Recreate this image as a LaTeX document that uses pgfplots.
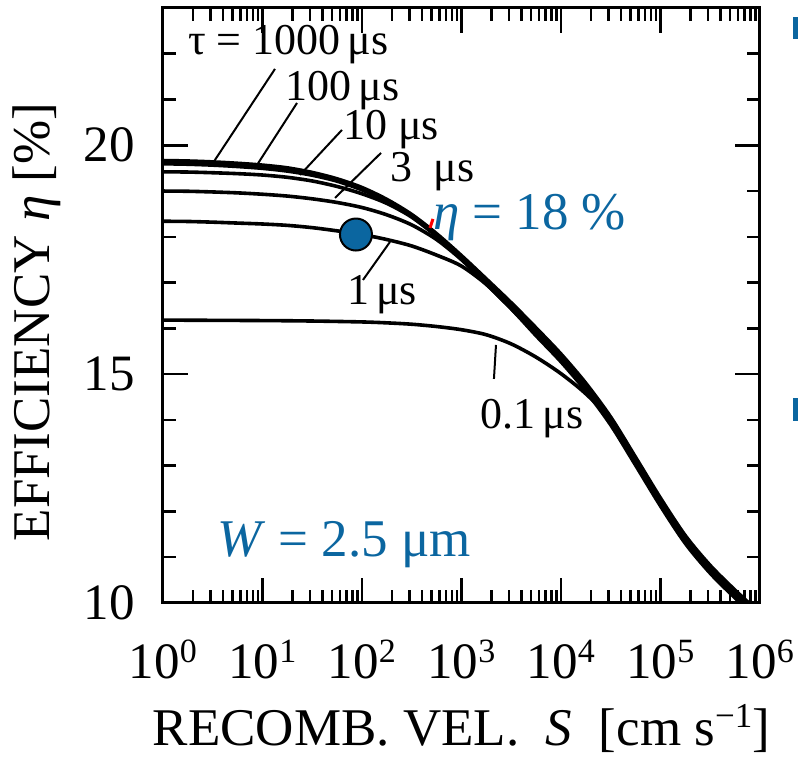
\documentclass[border=0pt]{standalone}
\usepackage{fontspec}
\setmainfont{Liberation Serif}
\usepackage{pgfplots}
\pgfplotsset{compat=1.18}
\definecolor{mblue}{RGB}{11,102,160}
\newcommand{\fsLab}{\fontsize{44}{50}\selectfont}
\newcommand{\fsBig}{\fontsize{53}{62}\selectfont}
\newcommand{\sps}[1]{\raisebox{16pt}{\fontsize{34}{36}\selectfont #1}}

\begin{document}
\begin{tikzpicture}
\begin{axis}[
  scale only axis, width=597pt, height=595pt,
  xmode=log, xmin=1, xmax=1e6, ymin=10, ymax=23,
  clip mode=individual,
  axis line style={line width=3pt},
  tick align=inside,
  major tick length=25pt, minor tick length=13pt,
  tick style={black, line width=2.5pt},
  xtick={1,10,100,1000,10000,100000,1000000},
  xticklabels={10\sps{0},10\sps{1},10\sps{2},10\sps{3},10\sps{4},10\sps{5},10\sps{6}},
  minor xtick={2,3,4,5,6,7,8,9,20,30,40,50,60,70,80,90,200,300,400,500,600,700,800,900,2000,3000,4000,5000,6000,7000,8000,9000,20000,30000,40000,50000,60000,70000,80000,90000,200000,300000,400000,500000,600000,700000,800000,900000},
  ytick={10,15,20}, yticklabels={10,15,20},
  minor ytick={11,12,13,14,16,17,18,19,21,22},
  ticklabel style={font=\fontsize{51}{60}\selectfont, inner sep=0pt},
  xticklabel style={yshift=-37pt},
  yticklabel style={xshift=-28pt},
  xlabel={RECOMB.\ VEL.\ \ \textit{S}\ \ [cm s\raisebox{18pt}{\fontsize{35}{38}\selectfont −1}]},
  ylabel={EFFICIENCY \textit{η} [\%]},
  label style={font=\fsBig},
  xlabel style={at={(axis description cs:0.5,-0.239)}, anchor=base},
  ylabel style={at={(axis description cs:-0.211,0.472)}, anchor=center},
]
% tau = 1000 us
\addplot[black, line width=4.2pt, smooth, tension=0.5] coordinates {
(1,19.66) (1.778,19.65) (3.162,19.63) (5.623,19.60) (10,19.56) (17.78,19.50)
(31.62,19.40) (56.23,19.26) (100,19.07) (177.8,18.81) (316.2,18.48) (562.3,18.06)
(1000,17.58) (1778,17.07) (3162,16.55) (5623,16.00) (10000,15.43) (17783,14.79)
(31623,14.05) (56234,13.17) (100000,12.28) (177828,11.46) (316228,10.81)
(562341,10.27) (1000000,9.77)};
% tau = 100 us
\addplot[black, line width=4pt, smooth, tension=0.5] coordinates {
(1,19.60) (1.778,19.59) (3.162,19.57) (5.623,19.54) (10,19.50) (17.78,19.44)
(31.62,19.35) (56.23,19.22) (100,19.03) (177.8,18.78) (316.2,18.45) (562.3,18.03)
(1000,17.55) (1778,17.03) (3162,16.51) (5623,15.96) (10000,15.39) (17783,14.75)
(31623,14.01) (56234,13.13) (100000,12.24) (177828,11.42) (316228,10.77)
(562341,10.23) (1000000,9.73)};
% tau = 10 us
\addplot[black, line width=3.6pt, smooth, tension=0.5] coordinates {
(1,19.42) (1.778,19.415) (3.162,19.40) (5.623,19.38) (10,19.35) (17.78,19.30)
(31.62,19.22) (56.23,19.10) (100,18.94) (177.8,18.73) (316.2,18.43) (562.3,18.01)
(1000,17.52) (1778,16.99) (3162,16.47) (5623,15.92) (10000,15.35) (17783,14.71)
(31623,13.97) (56234,13.09) (100000,12.20) (177828,11.38) (316228,10.73)
(562341,10.19) (1000000,9.69)};
% tau = 3 us
\addplot[black, line width=3.6pt, smooth, tension=0.5] coordinates {
(1,19.00) (1.778,18.995) (3.162,18.98) (5.623,18.96) (10,18.93) (17.78,18.89)
(31.62,18.83) (56.23,18.75) (100,18.64) (177.8,18.48) (316.2,18.26) (562.3,17.94)
(1000,17.50) (1778,16.97) (3162,16.43) (5623,15.88) (10000,15.31) (17783,14.67)
(31623,13.93) (56234,13.05) (100000,12.16) (177828,11.34) (316228,10.69)
(562341,10.15) (1000000,9.65)};
% tau = 1 us
\addplot[black, line width=3.6pt, smooth, tension=0.5] coordinates {
(1,18.34) (1.778,18.335) (3.162,18.32) (5.623,18.30) (10,18.28) (17.78,18.25)
(31.62,18.20) (56.23,18.13) (100,18.05) (177.8,17.94) (316.2,17.80) (562.3,17.60)
(1000,17.36) (1778,16.96) (3162,16.43) (5623,15.84) (10000,15.27) (17783,14.63)
(31623,13.89) (56234,13.01) (100000,12.12) (177828,11.30) (316228,10.65)
(562341,10.11) (1000000,9.61)};
% tau = 0.1 us
\addplot[black, line width=3.6pt, smooth, tension=0.5] coordinates {
(1,16.18) (10,16.17) (31.62,16.16) (100,16.14) (177.8,16.12) (316.2,16.09)
(562.3,16.04) (1000,15.97) (1778,15.86) (3162,15.66) (5623,15.37) (10000,15.01)
(17783,14.57) (31623,14.00) (56234,13.10) (100000,12.22) (177828,11.40)
(316228,10.75) (562341,10.21) (1000000,9.71)};
% operating point
\addplot[only marks, mark=*, mark size=16pt,
  mark options={fill=mblue, draw=black, line width=2pt}] coordinates {(87,18.05)};

% leader lines
\draw[line width=2pt] (rel axis cs:0.0838,0.7395) -- (rel axis cs:0.1876,0.8975);
\draw[line width=2pt] (rel axis cs:0.1575,0.7361) -- (rel axis cs:0.2245,0.8403);
\draw[line width=2pt] (rel axis cs:0.2295,0.7193) -- (rel axis cs:0.2998,0.7950);
\draw[line width=2pt] (rel axis cs:0.2881,0.6807) -- (rel axis cs:0.3652,0.7563);
\draw[line width=2pt] (rel axis cs:0.3802,0.6067) -- (rel axis cs:0.3350,0.5429);
\draw[line width=2pt] (rel axis cs:0.5578,0.4336) -- (rel axis cs:0.5544,0.3765);
\draw[red, line width=3pt] (rel axis cs:0.4472,0.6303) -- (rel axis cs:0.4523,0.6454);

% labels
\node[anchor=base west, inner sep=0pt, font=\fsLab] at (rel axis cs:0.0419,0.921) {τ = 1000\,μs};
\node[anchor=base west, inner sep=0pt, font=\fsLab] at (rel axis cs:0.2044,0.845) {100\,μs};
\node[anchor=base west, inner sep=0pt, font=\fsLab] at (rel axis cs:0.3015,0.779) {10 μs};
\node[anchor=base west, inner sep=0pt, font=\fsLab] at (rel axis cs:0.380,0.709) {3\ \ μs};
\node[anchor=base west, inner sep=0pt, font=\fsLab] at (rel axis cs:0.308,0.5008) {1\,μs};
\node[anchor=base west, inner sep=0pt, font=\fsLab] at (rel axis cs:0.531,0.294) {0.1\,μs};
\node[anchor=base west, inner sep=0pt, font=\fsBig, text=mblue] at (rel axis cs:0.452,0.628) {\textit{η} = 18 \%};
\node[anchor=base west, inner sep=0pt, font=\fsBig, text=mblue] at (rel axis cs:0.0905,0.0773) {\textit{W} = 2.5 μm};

% edge marks of the neighbouring panel
\fill[mblue] (axis description cs:1.0553,0.985) rectangle (axis description cs:1.0637,0.948);
\fill[mblue] (axis description cs:1.0553,0.3445) rectangle (axis description cs:1.0637,0.3059);
\path (axis description cs:-0.273,-0.262) (axis description cs:1.0637,1.0134);
\end{axis}
\end{tikzpicture}
\end{document}
